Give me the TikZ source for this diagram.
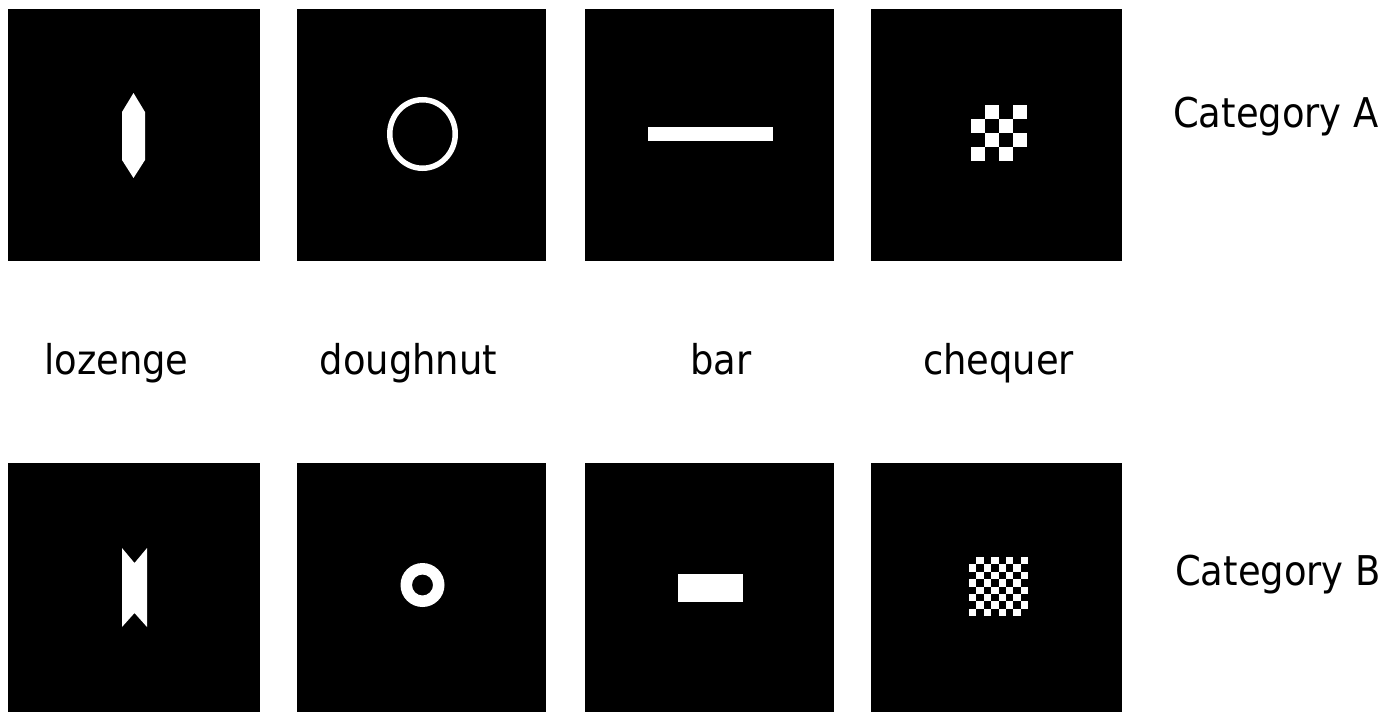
\documentclass[tikz,border=0pt]{standalone}
\usepackage{fontspec}
\setmainfont{DejaVu Sans Condensed}
\begin{document}
\begin{tikzpicture}[x=1pt,y=-1pt,
  panel/.style={fill=black,draw=none},
  shapefill/.style={fill=white,draw=none},
  lbl/.style={inner sep=0pt,anchor=base,font=\fontsize{41}{41}\selectfont},
  cat/.style={inner sep=0pt,anchor=base west,font=\fontsize{41}{41}\selectfont}]
\useasboundingbox (0,0) rectangle (1396,712);
\fill[white] (0,0) rectangle (1396,712);
% panels
\foreach \x/\w [count=\i] in {8/260,297/546,585/834,871/1122}{
  \fill[panel] (\x,9) rectangle (\w,261);
  \fill[panel] (\x,463) rectangle (\w,712);
}
% Category A shapes
\fill[shapefill] (133.5,93) -- (145,112) -- (145,160) -- (133.5,178) -- (122,160) -- (122,112) -- cycle;
\draw[white,line width=5.5pt] (422.5,134) ellipse [x radius=32.75, y radius=34.25];
\fill[shapefill] (648,127) rectangle (773,141);
\foreach \r in {0,...,3}{
  \foreach \c in {0,...,3}{
    \pgfmathtruncatemacro{\odd}{mod(\r+\c,2)}
    \ifnum\odd=1
      \fill[shapefill] (971+14*\c,105+14*\r) rectangle ++(14,14);
    \fi
  }
}
% Category B shapes
\fill[shapefill] (122,548) -- (134.5,563) -- (147,548) -- (147,627) -- (134.5,613) -- (122,627) -- cycle;
\fill[shapefill,even odd rule] (422.5,585) circle [radius=22] (422.5,585) circle [radius=10.5];
\fill[shapefill] (678,574) rectangle (743,602);
\foreach \r in {0,...,7}{
  \foreach \c in {0,...,7}{
    \pgfmathtruncatemacro{\odd}{mod(\r+\c,2)}
    \ifnum\odd=1
      \fill[shapefill] (969+7.375*\c,557+7.375*\r) rectangle ++(7.375,7.375);
    \fi
  }
}
% labels
\node[lbl] (l1) at (116.5,374) {lozenge};
\node[lbl] (l2) at (408.5,374) {doughnut};
\node[lbl] (l3) at (721,374) {bar};
\node[lbl] (l4) at (998.5,374) {chequer};
\node[cat] (ca) at (1173,127) {Category A};
\node[cat] (cb) at (1175,585) {Category B};
\end{tikzpicture}
\end{document}
